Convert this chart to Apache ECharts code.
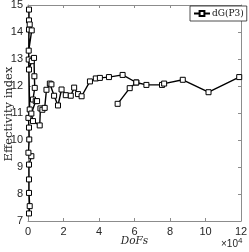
<!DOCTYPE html>
<html><head><meta charset="utf-8">
<script src="https://cdn.jsdelivr.net/npm/echarts@6/dist/echarts.min.js"></script>
<style>html,body{margin:0;padding:0;background:#fff}#c{width:249px;height:252px}</style>
</head><body><div id="c"></div>
<script>
// DoFs (raw) and effectivity index, in plotting order
var dofs = [560, 960, 560, 560, 560, 1900, 230, 700, 560, 230, 960, 400, 560, 560, 560, 960, 2100, 400, 560, 2100, 3400, 3600, 3800, 2800, 4350, 5100, 1900, 2800, 6600, 7000, 8100, 9400, 10400, 12300, 13200, 14700, 16900, 18900, 21300, 24100, 26000, 28200, 30200, 34900, 38200, 40500, 45600, 53300, 61000, 66700, 75500, 76700, 87200, 101700, 119000, null, 61000, 57300, 50500];
var effIndex = [7.28, 7.55, 8.04, 8.54, 9.09, 9.40, 9.53, 10.02, 10.46, 10.82, 11.13, 12.98, 14.09, 14.83, 14.43, 14.28, 14.06, 13.31, 12.61, 12.92, 13.04, 12.36, 11.93, 11.50, 11.44, 11.44, 10.98, 10.70, 10.54, 11.17, 11.12, 11.19, 11.86, 12.09, 12.06, 11.64, 11.28, 11.87, 11.66, 11.64, 11.94, 11.70, 11.62, 12.17, 12.28, 12.30, 12.33, 12.41, 12.13, 12.04, 12.04, 12.09, 12.23, 11.77, 12.33, null, 12.13, 11.92, 11.34];
var seriesName = 'dG(P3)';
var xTicks = [0, 2, 4, 6, 8, 10, 12];
var yTicks = [7, 8, 9, 10, 11, 12, 13, 14, 15];

var data = dofs.map(function (d, i) { return d === null ? [null, null] : [d, effIndex[i]]; });
var chart = echarts.init(document.getElementById('c'), null, {renderer: 'canvas'});
var axisCol = '#8c8c8c';
var labelStyle = {color: '#262626', fontFamily: 'Liberation Sans', fontSize: 11};
chart.setOption({
  animation: false,
  grid: {left: 28, right: 8, top: 5, bottom: 31, containLabel: false, outerBoundsMode: 'none'},
  xAxis: [{
    type: 'value', min: 0, max: 120000, interval: 20000,
    axisLine: {show: true, lineStyle: {color: axisCol}},
    axisTick: {show: true, inside: true, length: 3, lineStyle: {color: axisCol}},
    splitLine: {show: false},
    axisLabel: Object.assign({margin: 5, formatter: function (v) { return String(v / 10000); }}, labelStyle),
    name: 'DoFs', nameLocation: 'middle', nameGap: 15, nameMoveOverlap: false,
    nameTextStyle: {fontFamily: 'DejaVu Serif', fontStyle: 'italic', fontSize: 10.5, color: '#262626'}
  }, {
    type: 'value', position: 'top', min: 0, max: 120000, interval: 20000,
    axisLine: {show: true, onZero: false, lineStyle: {color: axisCol}},
    axisTick: {show: true, inside: true, length: 3, lineStyle: {color: axisCol}},
    axisLabel: {show: false}, splitLine: {show: false}
  }],
  yAxis: [{
    type: 'value', min: 7, max: 15, interval: 1,
    axisLine: {show: true, lineStyle: {color: axisCol}},
    axisTick: {show: true, inside: true, length: 3, lineStyle: {color: axisCol}},
    splitLine: {show: false},
    axisLabel: Object.assign({margin: 5}, labelStyle)
  }, {
    type: 'value', position: 'right', min: 7, max: 15, interval: 1,
    axisLine: {show: true, onZero: false, lineStyle: {color: axisCol}},
    axisTick: {show: true, inside: true, length: 3, lineStyle: {color: axisCol}},
    axisLabel: {show: false}, splitLine: {show: false}
  }],
  legend: {
    left: 190, top: 6, orient: 'vertical',
    data: [seriesName],
    itemWidth: 16, itemHeight: 6, itemGap: 2,
    padding: [3, 3, 3, 3],
    borderColor: '#222', borderWidth: 0.8, backgroundColor: '#fff',
    textStyle: {fontFamily: 'DejaVu Serif', fontSize: 9, color: '#111', padding: [0, 0, 0, -3]}
  },
  series: [{
    name: seriesName, type: 'line', data: data, connectNulls: false,
    symbol: 'rect', symbolSize: 5, showAllSymbol: true,
    lineStyle: {color: '#000', width: 1.4},
    itemStyle: {color: '#fff', borderColor: '#000', borderWidth: 1}
  }],
  graphic: [{
    type: 'text', left: 221, top: 237,
    style: {text: '×10{s|4}', rich: {s: {fontSize: 8, verticalAlign: 'top', padding: [0,0,6,0], fontFamily: 'Liberation Sans', fill: '#262626'}},
      fontFamily: 'Liberation Sans', fontSize: 10, fill: '#262626'}
  }, {
    type: 'text', x: 9, y: 114, rotation: Math.PI / 2,
    style: {text: 'Effectivity index', align: 'center', verticalAlign: 'middle',
      fontFamily: 'DejaVu Serif', fontSize: 11.5, fill: '#262626'}
  }]
});
</script></body></html>
